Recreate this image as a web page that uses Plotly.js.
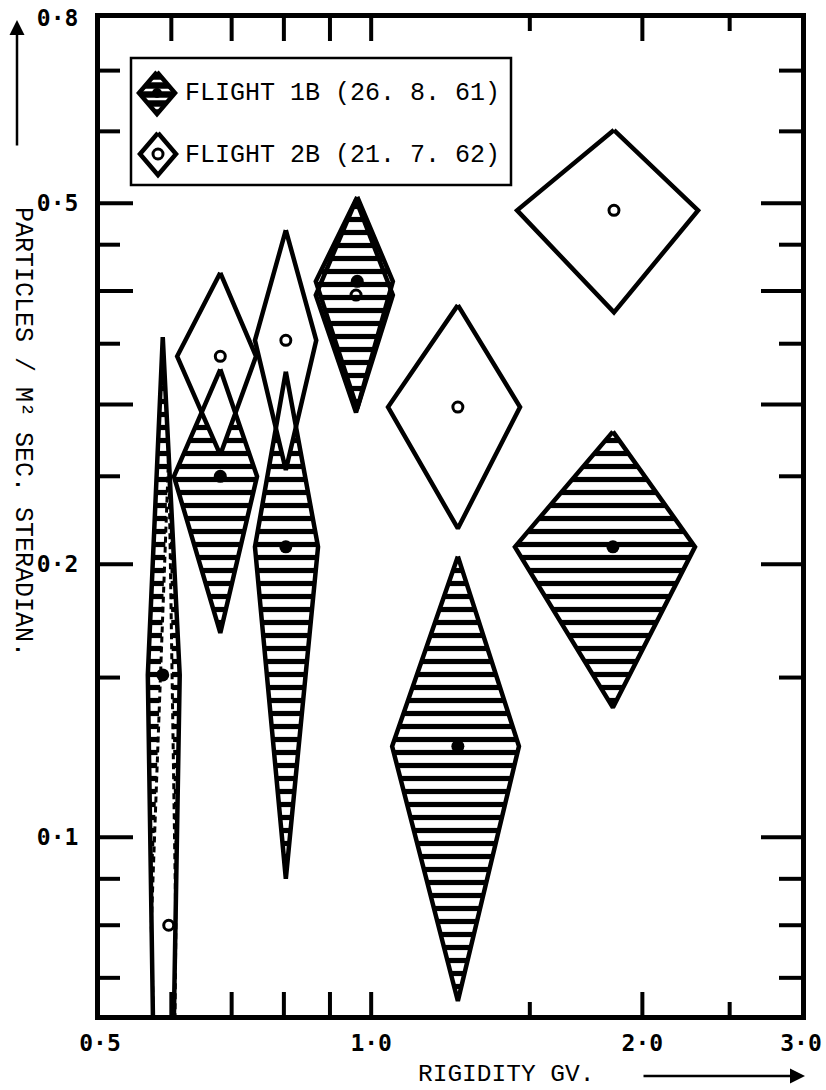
<!DOCTYPE html>
<html>
<head>
<meta charset="utf-8">
<script src="https://cdn.plot.ly/plotly-3.0.1.min.js"></script>
<style>html,body{margin:0;padding:0;background:#fff}</style>
</head>
<body>
<div id="chart" style="width:826px;height:1090px"></div>
<script>
// Flight 1B (26. 8. 61): measured point and the corners of its error diamond
const rigidity1B     = [0.587, 0.680, 0.804, 0.965, 1.248, 1.855];
const flux1B         = [0.151, 0.250, 0.209, 0.410, 0.126, 0.209];
const rigidityLow1B  = [0.565, 0.604, 0.743, 0.868, 1.055, 1.444];
const rigidityHigh1B = [0.613, 0.747, 0.873, 1.057, 1.459, 2.288];
const fluxLow1B      = [0.012, 0.168, 0.090, 0.297, 0.066, 0.139];
const fluxHigh1B     = [0.356, 0.328, 0.326, 0.508, 0.204, 0.280];

// Flight 2B (21. 7. 62)
const rigidity2B     = [0.596, 0.680, 0.804, 0.962, 1.248, 1.860];
const flux2B         = [0.080, 0.339, 0.353, 0.396, 0.298, 0.491];
const rigidityLow2B  = [0.570, 0.609, 0.743, 0.868, 1.044, 1.452];
const rigidityHigh2B = [0.607, 0.745, 0.869, 1.057, 1.463, 2.306];
const fluxLow2B      = [0.012, 0.264, 0.254, 0.294, 0.219, 0.379];
const fluxHigh2B     = [0.265, 0.419, 0.467, 0.504, 0.386, 0.602];

// Axis labelling
const xLabelVals  = [0.5, 1, 2, 3];
const xTickLabels = ['0·5', '1·0', '2·0', '3·0'];
const xTickMarks  = [0.6, 0.7, 0.8, 0.9, 1.0, 1.5, 2.0, 2.5];
const yLabelVals  = [0.1, 0.2, 0.5, 0.8];
const yTickLabels = ['0·1', '0·2', '0·5', '0·8'];
const yTickMarks  = [0.07, 0.08, 0.09, 0.1, 0.15, 0.2, 0.25, 0.3, 0.35, 0.4, 0.45, 0.5, 0.6, 0.7];
const yLongTicks  = [0.1, 0.2, 0.3, 0.4, 0.5];

const legendText1B = 'FLIGHT 1B (26. 8. 61)';
const legendText2B = 'FLIGHT 2B (21. 7. 62)';

// ---- styling ----
const INK = '#000';
const TYPE = 'Liberation Mono, DejaVu Sans Mono, monospace';
const hatch = {shape: '-', size: 13, solidity: 0.4, fgcolor: INK, bgcolor: '#fff', fillmode: 'replace'};
const dashed2B = new Set([0]);   // the lowest-rigidity 2B diamond is drawn dashed

function diamond(xc, yc, xl, xh, yl, yh) {
  return {x: [xc, xh, xc, xl, xc], y: [yh, yc, yl, yc, yh]};
}
const d1 = i => diamond(rigidity1B[i], flux1B[i], rigidityLow1B[i], rigidityHigh1B[i], fluxLow1B[i], fluxHigh1B[i]);
const d2 = i => diamond(rigidity2B[i], flux2B[i], rigidityLow2B[i], rigidityHigh2B[i], fluxLow2B[i], fluxHigh2B[i]);
// when both flights give nearly the same point the hatching stays on top
const coincide = i => Math.abs(Math.log10(flux2B[i] / flux1B[i])) < 0.05;

function fillTrace(d, pattern, xa, ya) {
  const t = {type: 'scatter', mode: 'lines', x: d.x, y: d.y, fill: 'toself', fillcolor: '#fff',
             line: {width: 0, color: 'rgba(0,0,0,0)'}, hoverinfo: 'skip', showlegend: false};
  if (pattern) t.fillpattern = pattern;
  if (xa) { t.xaxis = xa; t.yaxis = ya; }
  return t;
}
function outlineTrace(d, width, dash, xa, ya) {
  const t = {type: 'scatter', mode: 'lines', x: d.x, y: d.y,
             line: {width: width, color: INK, dash: dash || 'solid'}, hoverinfo: 'skip', showlegend: false};
  if (xa) { t.xaxis = xa; t.yaxis = ya; }
  return t;
}

const traces = [];
const n = rigidity1B.length;
for (let i = 0; i < n; i++) if (coincide(i)) traces.push(fillTrace(d2(i)));
for (let i = 0; i < n; i++) traces.push(fillTrace(d1(i), hatch));
for (let i = 0; i < n; i++) if (!coincide(i)) traces.push(fillTrace(d2(i)));
for (let i = 0; i < n; i++) traces.push(outlineTrace(d1(i), 4.5));
for (let i = 0; i < n; i++) traces.push(outlineTrace(d2(i), dashed2B.has(i) ? 3 : 4.5, dashed2B.has(i) ? '6px,4px' : null));

traces.push({type: 'scatter', mode: 'markers', x: rigidity1B, y: flux1B, name: legendText1B,
             marker: {symbol: 'circle', size: 13, color: INK}, showlegend: false});
traces.push({type: 'scatter', mode: 'markers', x: rigidity2B, y: flux2B, name: legendText2B,
             marker: {symbol: 'circle-open', size: 10, color: INK, line: {width: 3, color: INK}}, showlegend: false});

// ---- hand-made key, laid out in pixel units on an overlay pair of axes ----
const PW = 701, PH = 997;
const keySwatch = (cx, cy) => ({x: [cx, cx + 18, cx, cx - 18, cx], y: [cy - 21, cy, cy + 21, cy, cy - 21]});
const key1 = keySwatch(57, 75), key2 = keySwatch(58, 136);
traces.push(fillTrace(key1, {shape: '-', size: 9, solidity: 0.72, fgcolor: INK, bgcolor: '#fff', fillmode: 'replace'}, 'x2', 'y2'));
traces.push(outlineTrace(key1, 4.5, null, 'x2', 'y2'));
traces.push(fillTrace(key2, null, 'x2', 'y2'));
traces.push(outlineTrace(key2, 4.5, null, 'x2', 'y2'));
traces.push({type: 'scatter', mode: 'markers', x: [57], y: [75], xaxis: 'x2', yaxis: 'y2', showlegend: false,
             marker: {symbol: 'circle', size: 10, color: INK}});
traces.push({type: 'scatter', mode: 'markers', x: [58], y: [136], xaxis: 'x2', yaxis: 'y2', showlegend: false,
             marker: {symbol: 'circle-open', size: 10, color: INK, line: {width: 3, color: INK}}});

// ---- inward tick marks on all four sides ----
const shapes = [];
xTickMarks.forEach(v => {
  const len = (v > 1 && !Number.isInteger(v)) ? 13 : 23;
  shapes.push({type: 'line', xref: 'x', yref: 'paper', ysizemode: 'pixel', yanchor: 0,
               x0: v, x1: v, y0: 0, y1: len, line: {width: 4, color: INK}});
  shapes.push({type: 'line', xref: 'x', yref: 'paper', ysizemode: 'pixel', yanchor: 1,
               x0: v, x1: v, y0: 0, y1: -len, line: {width: 4, color: INK}});
});
yTickMarks.forEach(v => {
  const long = yLongTicks.includes(v);
  shapes.push({type: 'line', yref: 'y', xref: 'paper', xsizemode: 'pixel', xanchor: 0,
               y0: v, y1: v, x0: 0, x1: long ? 33 : 20, line: {width: 4, color: INK}});
  shapes.push({type: 'line', yref: 'y', xref: 'paper', xsizemode: 'pixel', xanchor: 1,
               y0: v, y1: v, x0: 0, x1: long ? -40 : -22, line: {width: 4, color: INK}});
});
// key frame
shapes.push({type: 'rect', xref: 'x2', yref: 'y2', x0: 31, x1: 411, y0: 40, y1: 167,
             line: {width: 2.5, color: INK}, fillcolor: 'rgba(0,0,0,0)'});

// paper position from a pixel offset inside the plotting area
const px = v => v / PW;
const py = v => 1 - v / PH;

const textFont = {family: TYPE, size: 25, color: INK};
const annotations = [
  {xref: 'x2', yref: 'y2', x: 83, y: 75, xanchor: 'left', yanchor: 'middle', showarrow: false,
   text: legendText1B, font: textFont},
  {xref: 'x2', yref: 'y2', x: 83, y: 137, xanchor: 'left', yanchor: 'middle', showarrow: false,
   text: legendText2B, font: textFont},
  {xref: 'paper', yref: 'paper', x: px(-77), y: py(414), xanchor: 'center', yanchor: 'middle',
   textangle: 90, showarrow: false,
   text: 'PARTICLES / M² SEC. STERADIAN.', font: {family: TYPE, size: 25, color: INK}},
  {xref: 'paper', yref: 'paper', x: px(406), y: py(1056), xanchor: 'center', yanchor: 'middle',
   showarrow: false, text: 'RIGIDITY GV.', font: {family: TYPE, size: 24.5, color: INK}},
  // direction arrows beside the axis titles
  {xref: 'paper', yref: 'paper', x: px(-83), y: py(2), ax: 0, ay: 127, text: '', showarrow: true,
   arrowhead: 2, arrowsize: 1.2, arrowwidth: 2.5, arrowcolor: INK},
  {xref: 'paper', yref: 'paper', x: px(705), y: py(1058), ax: -163, ay: 0, text: '', showarrow: true,
   arrowhead: 2, arrowsize: 1.2, arrowwidth: 2.5, arrowcolor: INK}
];

const tickFont = {family: 'DejaVu Sans Mono, monospace', size: 23, color: INK, weight: 'bold'};
const layout = {
  width: 826, height: 1090,
  margin: {l: 100, r: 25, t: 18, b: 75},
  paper_bgcolor: '#fff', plot_bgcolor: '#fff',
  showlegend: false,
  xaxis: {type: 'log', range: [Math.log10(0.5), Math.log10(3)],
          tickmode: 'array', tickvals: xLabelVals, ticktext: xTickLabels, ticks: '',
          showline: true, mirror: true, linewidth: 5, linecolor: INK,
          showgrid: false, zeroline: false, tickfont: tickFont, ticklabelstandoff: 3},
  yaxis: {type: 'log', range: [Math.log10(0.0637), Math.log10(0.8)],
          tickmode: 'array', tickvals: yLabelVals, ticktext: yTickLabels, ticks: '',
          showline: true, mirror: true, linewidth: 5, linecolor: INK,
          showgrid: false, zeroline: false, tickfont: tickFont, ticklabelstandoff: 12},
  xaxis2: {overlaying: 'x', anchor: 'y2', range: [0, PW], visible: false, fixedrange: true},
  yaxis2: {overlaying: 'y', anchor: 'x2', range: [PH, 0], visible: false, fixedrange: true},
  shapes: shapes,
  annotations: annotations
};

Plotly.newPlot('chart', traces, layout, {staticPlot: true, displayModeBar: false});
</script>
</body>
</html>
